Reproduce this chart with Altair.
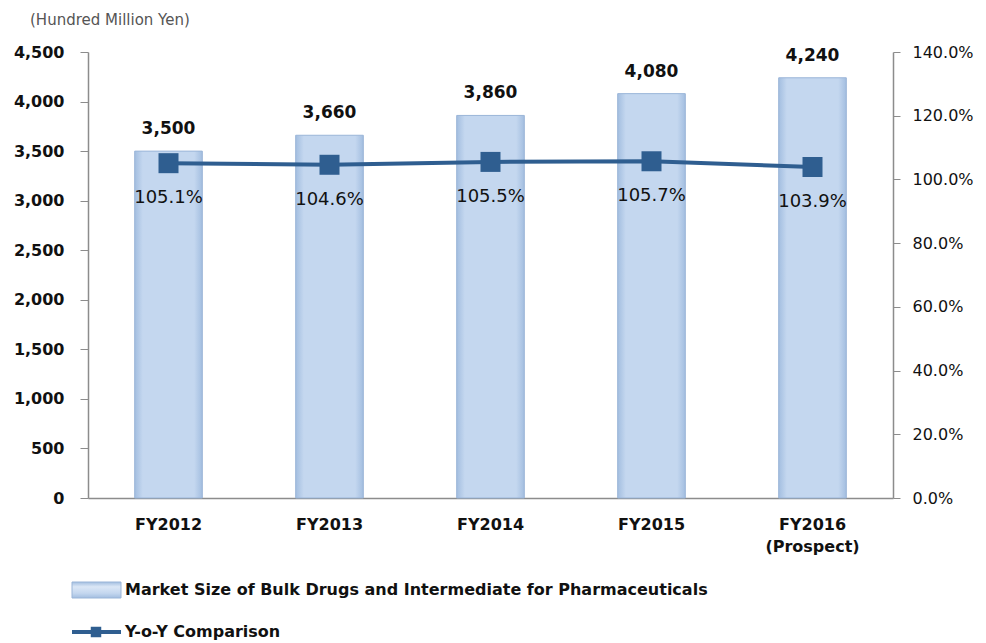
import altair as alt
import pandas as pd

categories = ["FY2012", "FY2013", "FY2014", "FY2015", "FY2016 (Prospect)"]
market_size = [3500, 3660, 3860, 4080, 4240]
yoy = [105.1, 104.6, 105.5, 105.7, 103.9]

left_ticks = [0, 500, 1000, 1500, 2000, 2500, 3000, 3500, 4000, 4500]
right_ticks = [0, 20, 40, 60, 80, 100, 120, 140]

FONT = "DejaVu Sans"
LINE = "#2F5E90"

df = pd.DataFrame({"cat": categories, "size": market_size, "yoy": yoy})

bar_fill = alt.Gradient(
    gradient="linear", x1=0, x2=1, y1=0, y2=0,
    stops=[
        alt.GradientStop(offset=0, color="#a3bee0"),
        alt.GradientStop(offset=0.12, color="#c4d7ef"),
        alt.GradientStop(offset=0.88, color="#c4d7ef"),
        alt.GradientStop(offset=1, color="#a3bee0"),
    ],
)

x_enc = alt.X(
    "cat:N", sort=categories, title=None,
    scale=alt.Scale(paddingInner=0.58, paddingOuter=0.29),
    axis=alt.Axis(
        labelAngle=0, ticks=False, labelPadding=18, labelFont=FONT, labelFontSize=16,
        labelFontWeight="bold", labelColor="#111", domainColor="#8c8c8c", domainWidth=1.5,
        labelLineHeight=22, grid=False,
        labelExpr="datum.value == 'FY2016 (Prospect)' ? ['FY2016', '(Prospect)'] : datum.label",
    ),
)

base = alt.Chart(df)

y_left = alt.Y(
    "size:Q", title=None,
    scale=alt.Scale(domain=[0, 4500], nice=False),
    axis=alt.Axis(
        values=left_ticks, grid=False, tickSize=8, labelPadding=16,
        labelExpr="format(datum.value, ',d')",
        labelFont=FONT, labelFontSize=16, labelFontWeight="bold", labelColor="#111",
        domainColor="#8c8c8c", tickColor="#8c8c8c", domainWidth=1.5,
    ),
)

bars = base.mark_bar(fill=bar_fill, stroke="#9ab5d8", strokeWidth=1).encode(x=x_enc, y=y_left)
bar_text = base.transform_calculate(
    lbl="format(datum.size, ',d')"
).mark_text(
    dy=-22, font=FONT, fontSize=17, fontWeight="bold", color="#111"
).encode(x=x_enc, y=y_left, text="lbl:N")

y_right = alt.Y(
    "yoy:Q", title=None,
    scale=alt.Scale(domain=[0, 140], nice=False),
    axis=alt.Axis(
        orient="right", values=right_ticks, grid=False, tickSize=7, labelPadding=12,
        labelFont=FONT, labelFontSize=16, labelColor="#111",
        labelExpr="format(datum.value, '.1f') + '%'",
        domainColor="#8c8c8c", tickColor="#8c8c8c", domainWidth=1.5,
    ),
)

line = base.mark_line(color=LINE, strokeWidth=4).encode(x=x_enc, y=y_right)
points = base.mark_point(shape="square", filled=True, size=400, color=LINE, opacity=1).encode(
    x=x_enc, y=y_right
)
pct_text = base.transform_calculate(
    lbl="format(datum.yoy, '.1f') + '%'"
).mark_text(dy=35, font=FONT, fontSize=18, color="#111").encode(
    x=x_enc, y=y_right, text="lbl:N"
)

legend_df = pd.DataFrame({"k": [0]})
lg = alt.Chart(legend_df)
leg_rect = lg.mark_rect(
    fill=alt.Gradient(
        gradient="linear", x1=0, x2=0, y1=0, y2=1,
        stops=[
            alt.GradientStop(offset=0, color="#a3bee0"),
            alt.GradientStop(offset=0.3, color="#dbe7f6"),
            alt.GradientStop(offset=0.7, color="#c4d7ef"),
            alt.GradientStop(offset=1, color="#a3bee0"),
        ],
    ),
    stroke="#9ab5d8",
).encode(x=alt.value(-16), x2=alt.value(33), y=alt.value(530), y2=alt.value(546))
leg_text1 = lg.mark_text(
    align="left", baseline="middle", font=FONT, fontSize=16, fontWeight="bold", color="#111"
).encode(
    x=alt.value(37), y=alt.value(538),
    text=alt.value("Market Size of Bulk Drugs and Intermediate for Pharmaceuticals"),
)
leg_line = lg.mark_rect(color=LINE).encode(
    x=alt.value(-16), x2=alt.value(33), y=alt.value(578), y2=alt.value(582)
)
leg_pt = lg.mark_point(shape="square", filled=True, size=110, color=LINE, opacity=1).encode(
    x=alt.value(8), y=alt.value(580)
)
leg_text2 = lg.mark_text(
    align="left", baseline="middle", font=FONT, fontSize=16, fontWeight="bold", color="#111"
).encode(x=alt.value(37), y=alt.value(580), text=alt.value("Y-o-Y Comparison"))

title_text = lg.mark_text(
    align="left", baseline="middle", font=FONT, fontSize=15, color="#555"
).encode(x=alt.value(-58), y=alt.value(-32), text=alt.value("(Hundred Million Yen)"))

left_layer = alt.layer(bars, bar_text)
right_layer = alt.layer(line, points, pct_text)
legend_layer = alt.layer(leg_rect, leg_text1, leg_line, leg_pt, leg_text2, title_text)

chart = (
    alt.layer(left_layer, right_layer, legend_layer)
    .resolve_scale(y="independent")
    .properties(
        width=805, height=446,
        background="white",
        autosize=alt.AutoSizeParams(type="none"),
        padding={"left": 80, "top": 44, "right": 85, "bottom": 150},
    )
    .configure_view(strokeWidth=0)
    .configure_axis(grid=False)
)

chart.save("out.html", embed_options={"renderer": "svg", "actions": False})
